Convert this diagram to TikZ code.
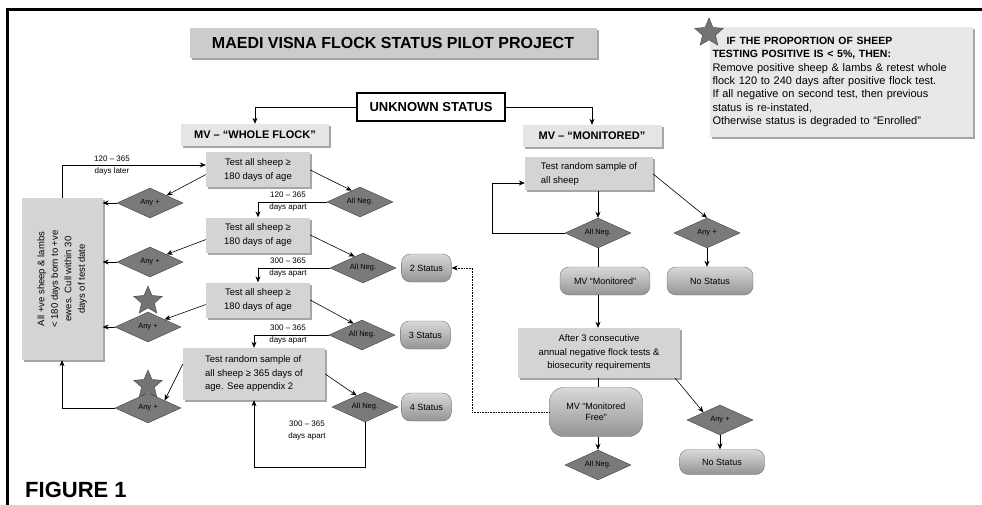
\documentclass[tikz,border=0pt]{standalone}
\usepackage{fontspec}
\setmainfont{Liberation Sans}
\usepackage{graphicx}
\usepackage{tikz}
\usetikzlibrary{positioning,arrows.meta,shapes.geometric,shadows,calc}

\begin{document}
\begin{tikzpicture}[x=1pt, y=-1pt,
  node distance=5pt and 5pt,
  box/.style={fill=black!17, align=center, font=\fontsize{9.5}{13.5}\selectfont, inner sep=3pt, minimum width=#1, drop shadow={shadow xshift=2pt, shadow yshift=-2pt, fill=black!35, opacity=1}},
  box/.default=104pt,
  hd/.style={box=#1, fill=black!10, font=\fontsize{11}{13}\bfseries, minimum height=22pt},
  dia/.style={diamond, aspect=2.2, fill=black!52, draw=black!75, font=\fontsize{7.5}{8}\selectfont, inner sep=0pt, minimum width=66pt, minimum height=30pt},
  stat/.style={rounded corners=9pt, top color=black!15, bottom color=black!42, draw=black!55, font=\fontsize{9}{11}\selectfont, align=center, minimum width=#1, minimum height=28pt},
  stat/.default=50pt,
  starshape/.style={star, star points=5, star point ratio=2.2, fill=black!55, draw=black!75, minimum size=30pt, inner sep=0pt},
  arr/.style={-{Stealth[length=6pt, width=5pt]}, semithick},
  lab/.style={font=\fontsize{8}{12}\selectfont, align=center, inner sep=0pt}]
  \useasboundingbox (0,0) rectangle (982,505);
  \draw[line width=3pt] (7,505) -- (7,10) -- (982,10);
  \node[box=407pt, fill=black!20, font=\fontsize{16}{18}\bfseries, minimum height=30pt] (title) at (393,43) {MAEDI VISNA FLOCK STATUS PILOT PROJECT};
  \node[draw, line width=2pt, fill=white, font=\fontsize{13}{15}\bfseries, minimum width=148pt, minimum height=28pt] (unk) at (431,107) {UNKNOWN STATUS};
  \node[hd=148pt] (wf) at (255,135) {MV -- ``WHOLE FLOCK''};
  \node[hd=139pt] (mon) at (592,136) {MV -- ``MONITORED''};
  \node[box=263pt, fill=black!9, align=left, minimum height=110pt, text width=257pt, font=\fontsize{11}{13.3}\selectfont] (nb) at (841,82) {{\fontsize{10.5}{13.3}\bfseries\hspace*{14pt}IF THE PROPORTION OF SHEEP\\TESTING POSITIVE IS < 5\%, THEN:}\\Remove positive sheep \& lambs \& retest whole\\flock 120 to 240 days after positive flock test.\\If all negative on second test, then previous\\status is re-instated,\\Otherwise status is degraded to ``Enrolled''};
  \node[starshape] (s0) at (709,33) {};
  \node[box, minimum height=35pt] (t1) at (258,170) {Test all sheep ≥\\180 days of age};
  \node[box, minimum height=35pt] (t2) at (258,235) {Test all sheep ≥\\180 days of age};
  \node[box, minimum height=35pt] (t3) at (258,300) {Test all sheep ≥\\180 days of age};
  \node[box=142pt, align=left, minimum height=52pt] (t4) at (254,374) {Test random sample of\\all sheep ≥ 365 days of\\age. See appendix 2};
  \node[box=81pt, minimum height=162pt] (lb) at (62,279) {\rotatebox{90}{\begin{tabular}{@{}c@{}}All +ve sheep \& lambs\\< 180 days born to +ve\\ewes. Cull within 30\\days of test date\end{tabular}}};
  \node[starshape] (s3) at (148,301) {};
  \node[starshape] (s4) at (148,385) {};
  \node[dia] (a1) at (150,203) {Any +};
  \node[dia] (a2) at (150,262) {Any +};
  \node[dia] (a3) at (148,327) {Any +};
  \node[dia] (a4) at (148,408) {Any +};
  \node[dia] (n1) at (360,202) {All Neg.};
  \node[dia] (n2) at (363,268) {All Neg.};
  \node[dia] (n3) at (362,335) {All Neg.};
  \node[dia] (n4) at (365,407) {All Neg.};
  \node[stat, right=5pt of n2] (st2) {2 Status};
  \node[stat, right=5pt of n3] (st3) {3 Status};
  \node[stat, right=3pt of n4] (st4) {4 Status};
  \node[lab] (l0) at (112,166) {120 -- 365\\days later};
  \node[lab] (l1) at (288,202) {120 -- 365\\days apart};
  \node[lab] (l2) at (288,268) {300 -- 365\\days apart};
  \node[lab] (l3) at (288,335) {300 -- 365\\days apart};
  \node[lab] (l4) at (307,431) {300 -- 365\\days apart};
  \node[box=128pt, align=left, minimum height=33pt] (r1) at (589,174) {Test random sample of\\all sheep};
  \node[dia] (rn) at (598,233) {All Neg.};
  \node[dia] (ra) at (707,233) {Any +};
  \node[stat=90pt] (mv) at (605,281) {MV ``Monitored''};
  \node[stat=86pt] (ns1) at (710,281) {No Status};
  \node[box=162pt, minimum height=50pt] (af) at (599,353) {After 3 consecutive\\annual negative flock tests \&\\biosecurity requirements};
  \node[stat=93pt, minimum height=49pt, rounded corners=14pt] (mf) at (596,412) {MV ``Monitored\\Free''};
  \node[dia] (ra2) at (720,420) {Any +};
  \node[stat=85pt, minimum height=25pt] (ns2) at (722,462) {No Status};
  \node[dia] (nm) at (598,465) {All Neg.};
  \node[anchor=south west, font=\fontsize{22}{22}\bfseries, inner sep=0pt] (fig) at (25,498) {FIGURE 1};
  \draw[arr] (unk.west) -| (wf.north); \draw[arr] (unk.east) -| (mon.north);
  \draw[arr] (t1.185) -- (a1.north east); \draw[arr] (t2.185) -- (a2.north east);
  \draw[arr] (t3.185) -- (a3.north east); \draw[arr] (t4.172) -- (a4.north east);
  \draw[arr] (t1.east) -- ($(n1.north)!0.25!(n1.west)$); \draw[arr] (t2.east) -- ($(n2.north)!0.25!(n2.west)$);
  \draw[arr] (t3.east) -- ($(n3.north)!0.25!(n3.west)$); \draw[arr] (t4.east) -- ($(n4.north)!0.25!(n4.west)$);
  \draw[arr] (a1.west) -- (a1.west -| lb.east); \draw[arr] (a2.west) -- (a2.west -| lb.east);
  \draw[arr] (a3.west) -- (a3.west -| lb.east);
  \draw[arr] (lb.north) |- ([yshift=5pt]t1.west);
  \draw[arr] (a4.west) -| (lb.south);
  \draw[arr] (n1.west) -| (t2.north); \draw[arr] (n2.west) -| (t3.north); \draw[arr] (n3.west) -| (t4.north);
  \draw[arr] (n4.south) -- ++(0,45) -| (t4.south);
  \draw[arr, densely dotted, thick] (mf.west) -- ++(-77,0) |- (st2.east);
  \draw[arr] (rn.north |- r1.south) -- (rn.north);
  \draw[arr] (r1.east) -- (ra.north);
  \draw[arr] (rn.west) -- ++(-73,0) |- ([yshift=-9pt]r1.west);
  \draw (rn.south) -- (rn.south |- mv.north);
  \draw[arr] (ra.south) -- (ra.south |- ns1.north);
  \draw[arr] (rn.south |- mv.south) -- (rn.south |- af.north);
  \draw (rn.south |- af.south) -- (rn.south |- mf.north);
  \draw[arr] ([xshift=-5pt]af.south east) -- (ra2.north west);
  \draw[arr] (ra2.south) -- (ra2.south |- ns2.north);
  \draw[arr] (nm.north |- mf.south) -- (nm.north);
\end{tikzpicture}
\end{document}
